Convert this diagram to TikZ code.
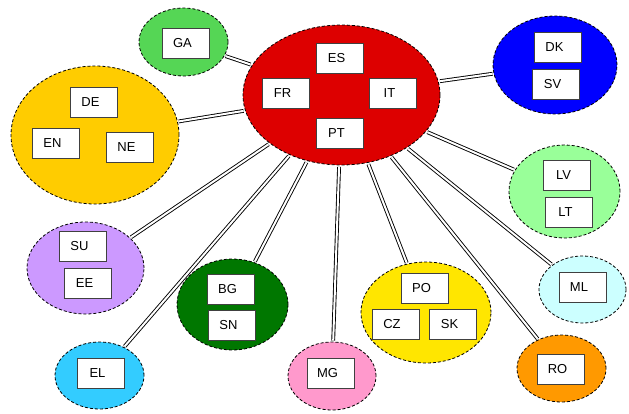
\documentclass[tikz,border=0pt]{standalone}
\usepackage{fontspec}
\setmainfont{Liberation Sans}
\usetikzlibrary{shapes.geometric}
\definecolor{cred}{HTML}{DD0000}
\definecolor{cga}{HTML}{55D655}
\definecolor{cde}{HTML}{FFCC00}
\definecolor{cdk}{HTML}{0000FF}
\definecolor{csu}{HTML}{CC99FF}
\definecolor{cbg}{HTML}{007700}
\definecolor{cel}{HTML}{33CCFF}
\definecolor{cmg}{HTML}{FF99CC}
\definecolor{cpo}{HTML}{FFE600}
\definecolor{clv}{HTML}{99FF99}
\definecolor{cml}{HTML}{CCFFFF}
\definecolor{cro}{HTML}{FF9900}
\newcommand{\lbl}[1]{#1\hspace*{7pt}}
\tikzset{
  grp/.style={ellipse, draw=black, line width=0.8pt, dash pattern=on 3pt off 2pt, inner sep=0pt},
  lang/.style={rectangle, draw=black!75, line width=1pt, fill=white, minimum width=47pt, minimum height=30pt, inner sep=0pt, font=\fontsize{13pt}{15pt}\selectfont},
  conn/.style={draw=black, line width=0.9pt, double=white, double distance=2pt, shorten <=1.5pt, shorten >=1pt}
}
\begin{document}
\begin{tikzpicture}[x=1pt,y=-1pt]
\useasboundingbox (0,0) rectangle (629,413);
% groups
\node[grp, fill=cred, minimum width=197pt, minimum height=140pt] (red) at (341.5,95) {};
\node[grp, fill=cga, minimum width=89pt, minimum height=68pt] (ga) at (183.5,42) {};
\node[grp, fill=cde, minimum width=168pt, minimum height=138pt] (de) at (95,135) {};
\node[grp, fill=cdk, minimum width=124pt, minimum height=98pt] (dk) at (555,65) {};
\node[grp, fill=csu, minimum width=117pt, minimum height=92pt] (su) at (85.5,268) {};
\node[grp, fill=cbg, minimum width=111pt, minimum height=91pt] (bg) at (232.5,304.5) {};
\node[grp, fill=cel, minimum width=89pt, minimum height=67pt] (el) at (99.5,375.5) {};
\node[grp, fill=cmg, minimum width=88pt, minimum height=68pt] (mg) at (332,376) {};
\node[grp, fill=cpo, minimum width=130pt, minimum height=101pt] (po) at (426,312.5) {};
\node[grp, fill=clv, minimum width=111pt, minimum height=93pt] (lv) at (564.5,191.5) {};
\node[grp, fill=cml, minimum width=87pt, minimum height=67pt] (ml) at (582.5,289.5) {};
\node[grp, fill=cro, minimum width=89pt, minimum height=67pt] (ro) at (561.5,368.5) {};
% connectors
\foreach \g in {ga,de,dk,su,bg,el,mg,po,lv,ml,ro}
  \draw[conn] (red) -- (\g);
% language boxes
\node[lang] (es) at (340,58) {\lbl{ES}};
\node[lang] (fr) at (286,93) {\lbl{FR}};
\node[lang] (it) at (393,93) {\lbl{IT}};
\node[lang] (pt) at (340,133) {\lbl{PT}};
\node[lang] (gab) at (186,43) {\lbl{GA}};
\node[lang] (deb) at (94,102) {\lbl{DE}};
\node[lang] (en) at (56,143) {\lbl{EN}};
\node[lang] (ne) at (130,147) {\lbl{NE}};
\node[lang] (dkb) at (558,47) {\lbl{DK}};
\node[lang] (sv) at (556,84) {\lbl{SV}};
\node[lang] (sub) at (83,246) {\lbl{SU}};
\node[lang] (ee) at (88,283) {\lbl{EE}};
\node[lang] (bgb) at (231,289) {\lbl{BG}};
\node[lang] (sn) at (232,325) {\lbl{SN}};
\node[lang] (elb) at (101,373) {\lbl{EL}};
\node[lang] (mgb) at (331,373) {\lbl{MG}};
\node[lang] (pob) at (425,288) {\lbl{PO}};
\node[lang] (cz) at (395.5,324.5) {\lbl{CZ}};
\node[lang] (sk) at (453,324.5) {\lbl{SK}};
\node[lang] (lvb) at (567,175.5) {\lbl{LV}};
\node[lang] (lt) at (569,212) {\lbl{LT}};
\node[lang] (mlb) at (582.5,287) {\lbl{ML}};
\node[lang] (rob) at (561,369.5) {\lbl{RO}};
\end{tikzpicture}
\end{document}
